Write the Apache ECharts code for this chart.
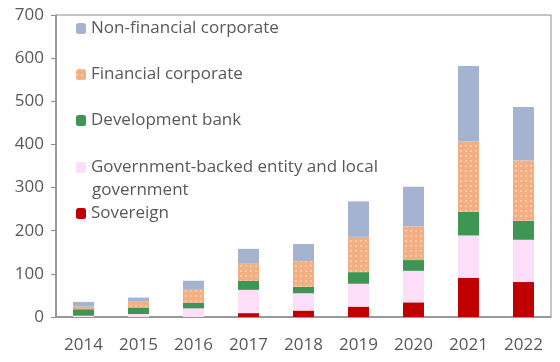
<!DOCTYPE html>
<html><head><meta charset="utf-8">
<script src="https://cdn.jsdelivr.net/npm/echarts@6/dist/echarts.min.js"></script>
<style>html,body{margin:0;padding:0;background:#fff}#c{width:560px;height:362px}</style>
</head><body><div id="c"></div>
<script>
var years = ['2014','2015','2016','2017','2018','2019','2020','2021','2022'];
var sovereign = [0, 0, 0, 9, 15, 24, 34, 91, 81];
var govBacked = [3, 7, 20, 54, 40, 53, 73, 98, 98];
var devBank = [15, 15, 13, 21, 15, 27, 25, 55, 44];
var financial = [6, 15, 32, 41, 60, 82, 78, 163, 140];
var nonFinancial = [11, 8, 19, 33, 39, 82, 92, 175, 124];
var yTicks = [0, 100, 200, 300, 400, 500, 600, 700];

var FONT = '"Open Sans", "Noto Sans", sans-serif';
var FS = 17;
var TXT = '#595959';
var chart = echarts.init(document.getElementById('c'));
function ser(name, data, color, decal) {
  var s = {name: name, type: 'bar', stack: 'total', data: data, barWidth: 21,
    itemStyle: {color: color}, emphasis: {disabled: true}};
  if (decal) s.itemStyle.decal = decal;
  return s;
}
var dots = {symbol: 'rect', symbolSize: 0.7, color: 'rgba(255,255,255,0.6)',
  dashArrayX: [[2, 3]], dashArrayY: [2, 3], rotation: 0};
function leg(name, top, fmt) {
  return {data: [name], left: 76, top: top, orient: 'vertical', itemWidth: 10, itemHeight: 11,
    itemGap: 6, padding: 0, selectedMode: false,
    textStyle: {fontFamily: FONT, fontSize: FS, color: TXT, padding: [0, 0, 0, 0]},
    formatter: fmt || undefined};
}
chart.setOption({
  animation: false,
  aria: {enabled: false},
  grid: {left: 56, right: 9, top: 15, bottom: 45, show: true, borderColor: '#8c8c8c', borderWidth: 1},
  xAxis: {type: 'category', data: years,
    axisLine: {lineStyle: {color: '#8c8c8c', width: 1.5}}, axisTick: {show: false},
    axisLabel: {fontFamily: FONT, fontSize: FS, color: TXT, margin: 20}},
  yAxis: {type: 'value', min: yTicks[0], max: yTicks[yTicks.length - 1], interval: 100,
    splitLine: {show: false},
    axisLine: {show: true, lineStyle: {color: '#8c8c8c', width: 1.5}},
    axisTick: {show: true, inside: false, length: 5, lineStyle: {color: '#8c8c8c'}},
    axisLabel: {fontFamily: FONT, fontSize: FS, color: TXT, margin: 12}},
  legend: [
    leg('Non-financial corporate', 20),
    leg('Financial corporate', 66),
    leg('Development bank', 112),
    leg('Government-backed entity and local government', 159, function () { return 'Government-backed entity and local'; }),
    leg('Sovereign', 205)
  ],
  graphic: [{type: 'text', left: 92, top: 182,
    style: {text: 'government', font: FS + 'px ' + FONT, fill: TXT}}],
  series: [
    ser('Sovereign', sovereign, '#C00000'),
    ser('Government-backed entity and local government', govBacked, '#FCDEF8'),
    ser('Development bank', devBank, '#3D9653'),
    ser('Financial corporate', financial, '#F3AF82', dots),
    ser('Non-financial corporate', nonFinancial, '#A3B3D0')
  ]
});
</script></body></html>
